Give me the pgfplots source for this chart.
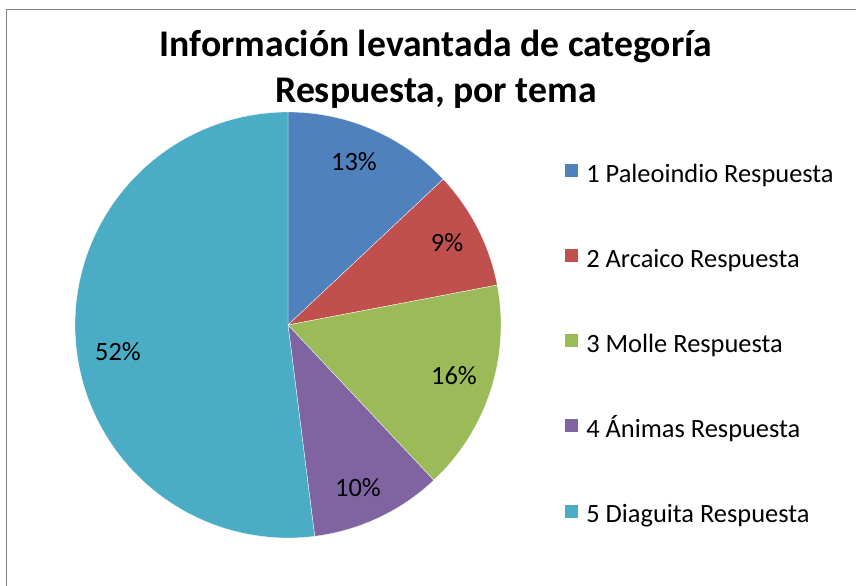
\documentclass[border=0pt]{standalone}
\usepackage{pgfplots}
\pgfplotsset{compat=1.18}
\usepgfplotslibrary{polar}
\usepackage{fontspec}
\setmainfont{Carlito}
\definecolor{cA}{HTML}{4F81BD}
\definecolor{cB}{HTML}{C0504D}
\definecolor{cC}{HTML}{9BBB59}
\definecolor{cD}{HTML}{8064A2}
\definecolor{cE}{HTML}{4BACC6}
\definecolor{frame}{HTML}{868686}
% shares (percent) of each theme
\def\pA{13}\def\pB{9}\def\pC{16}\def\pD{10}\def\pE{52}
\pgfmathsetmacro\aA{90}
\pgfmathsetmacro\aB{\aA-3.6*\pA}
\pgfmathsetmacro\aC{\aB-3.6*\pB}
\pgfmathsetmacro\aD{\aC-3.6*\pC}
\pgfmathsetmacro\aE{\aD-3.6*\pD}
\pgfmathsetmacro\aF{\aE-3.6*\pE}
\begin{document}
\begin{tikzpicture}[x=1bp,y=1bp]
\path[use as bounding box] (0,0) rectangle (856,586);
\draw[frame, line width=1.5bp] (6.5,0) -- (6.5,576.5) -- (856,576.5);
\node[anchor=base, font=\bfseries\fontsize{37.8}{44}\selectfont] at (436,529) {Información levantada de categoría};
\node[anchor=base, font=\bfseries\fontsize{37.8}{44}\selectfont] at (436,483) {Respuesta, por tema};
\begin{polaraxis}[
  at={(288bp,261bp)}, anchor=origin,
  scale only axis, width=426bp, height=426bp,
  hide axis, xmin=0, xmax=360, ymin=0, ymax=1,
  clip=false,
  legend style={at={(1.1479,0.8805)}, anchor=north west, draw=none, fill=none,
    inner sep=0pt, outer sep=0pt, row sep=61bp, column sep=8bp,
    nodes={inner sep=0pt, text height=17bp, text depth=5bp},
    font=\fontsize{26.5}{31}\selectfont},
  legend cell align=left,
  legend image code/.code={\fill[#1] (0bp,-1bp) rectangle (14bp,13bp);},
]
\addplot[fill=cA, draw=white, line width=0.3bp, domain=\aB:\aA, samples=60] {1} -- (axis cs:0,0) -- cycle;
\addlegendentry{1 Paleoindio Respuesta}
\addplot[fill=cB, draw=white, line width=0.3bp, domain=\aC:\aB, samples=60] {1} -- (axis cs:0,0) -- cycle;
\addlegendentry{2 Arcaico Respuesta}
\addplot[fill=cC, draw=white, line width=0.3bp, domain=\aD:\aC, samples=60] {1} -- (axis cs:0,0) -- cycle;
\addlegendentry{3 Molle Respuesta}
\addplot[fill=cD, draw=white, line width=0.3bp, domain=\aE:\aD, samples=60] {1} -- (axis cs:0,0) -- cycle;
\addlegendentry{4 Ánimas Respuesta}
\addplot[fill=cE, draw=white, line width=0.3bp, domain=\aF:\aE, samples=120] {1} -- (axis cs:0,0) -- cycle;
\addlegendentry{5 Diaguita Respuesta}
\end{polaraxis}
\begin{scope}[font=\fontsize{26.5}{31}\selectfont]
\node[anchor=base] at (354,415) {\pA\%};
\node[anchor=base] at (447,334) {\pB\%};
\node[anchor=base] at (454,201) {\pC\%};
\node[anchor=base] at (358,89) {\pD\%};
\node[anchor=base] at (118,225) {\pE\%};
\end{scope}
\end{tikzpicture}
\end{document}
